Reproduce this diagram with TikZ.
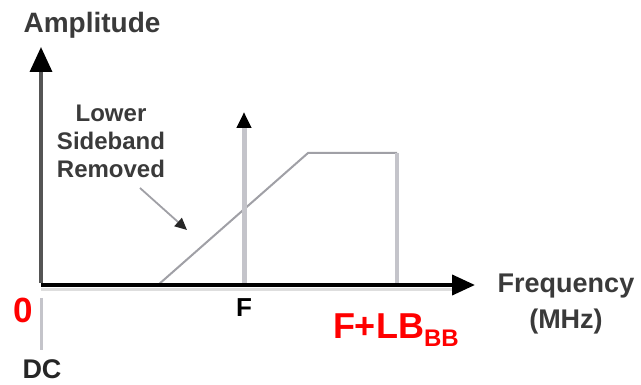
\documentclass[tikz,border=0pt]{standalone}
\usepackage{fontspec}
\setmainfont{Liberation Sans}
\usetikzlibrary{arrows.meta}
\definecolor{axisgray}{HTML}{555555}
\definecolor{lightline}{HTML}{C4C4CA}
\definecolor{midline}{HTML}{A0A0A6}
\definecolor{txtgray}{HTML}{3A3A3A}
\definecolor{redlbl}{HTML}{FF0000}
\begin{document}
\begin{tikzpicture}[x=1pt,y=-1pt,
  lbl/.style={inner sep=0pt,outer sep=0pt,font=\bfseries,anchor=base},
  redtxt/.style={lbl,text=redlbl},
  speclabel/.style={lbl,text=txtgray,font=\bfseries\fontsize{24}{24}\selectfont},
  specline/.style={midline,line width=2pt},
]
\useasboundingbox (0,0) rectangle (641,385);
\fill[white] (0,0) rectangle (641,385);
% coordinates
\coordinate (O) at (41,285);
\coordinate (ytip) at (41,47);
\coordinate (xtip) at (475,285);
\coordinate (xshadowA) at (41,289.5);
\coordinate (xshadowB) at (455,289.5);
\coordinate (cbase) at (244,285);
\coordinate (ctip) at (244,112);
\coordinate (s0) at (158,285);
\coordinate (s1) at (308,153);
\coordinate (s2) at (397,153);
\coordinate (s3) at (397,285);
\coordinate (dcA) at (41,298);
\coordinate (dcB) at (41,350);
\coordinate (anA) at (140,188);
\coordinate (anB) at (187,230);
% spectrum shape
\draw[specline,line join=miter] (s0) -- (s1) -- (s2);
\draw[lightline,line width=3.5pt] (s2) -- (s3);
% carrier
\draw[lightline,line width=5pt,-{Triangle[length=16pt,width=14pt,color=black]}] (cbase) -- (ctip);
% DC marker
\draw[lightline,line width=3pt] (dcA) -- (dcB);
% axes
\draw[black!13,line width=3pt] (xshadowA) -- (xshadowB);
\draw[black,line width=4pt,-{Triangle[length=23pt,width=20pt]}] (O) -- (xtip);
\draw[axisgray,line width=3.5pt,-{Triangle[length=25pt,width=22pt,color=black]}] ([yshift=2pt]O) -- (ytip);
% annotation arrow
\draw[midline,line width=1.8pt,-{Triangle[length=12pt,width=11pt,color=black!85]}] (anA) -- (anB);
% labels
\node[lbl,text=txtgray,font=\bfseries\fontsize{28}{28}\selectfont] (amp) at (92,33) {Amplitude};
\node[speclabel] (low) at (111,122) {Lower};
\node[speclabel] (side) at (111,150) {Sideband};
\node[speclabel] (rem) at (111,178) {Removed};
\node[lbl,text=black,font=\bfseries\fontsize{26}{26}\selectfont] (F) at (244,317) {F};
\node[redtxt,font=\bfseries\fontsize{35}{35}\selectfont] (zero) at (23.5,323) {0};
\node[lbl,text=black!85,font=\bfseries\fontsize{27}{27}\selectfont] (dc) at (42,378) {DC};
\node[redtxt,anchor=base west,font=\bfseries\fontsize{36}{36}\selectfont] (flb) at (333,338) {F+LB\raisebox{-9pt}{\fontsize{24}{24}\selectfont BB}};
\node[lbl,text=txtgray,font=\bfseries\fontsize{27}{27}\selectfont] (freq) at (566,293) {Frequency};
\node[lbl,text=txtgray,font=\bfseries\fontsize{27}{27}\selectfont] (mhz) at (566,329) {(MHz)};
\end{tikzpicture}
\end{document}
